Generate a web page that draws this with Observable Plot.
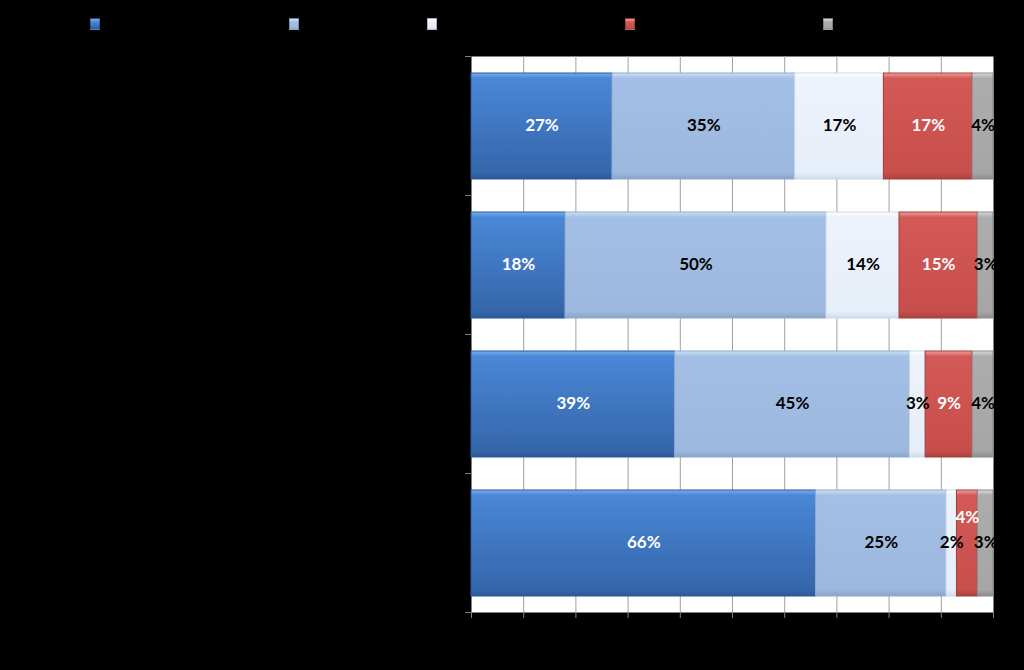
<!DOCTYPE html>
<html><head><meta charset="utf-8">
<script src="https://cdn.jsdelivr.net/npm/d3@7"></script>
<script src="https://cdn.jsdelivr.net/npm/@observablehq/plot@0.6"></script>
<style>
html,body{margin:0;padding:0;background:#000;width:1024px;height:670px;overflow:hidden}
#wrap{position:relative;width:1024px;height:670px}
#legend{position:absolute;top:0;left:0;width:1024px;height:48px;z-index:2}
.item{position:absolute;top:18px;height:12px;display:flex;align-items:center;font:12px Lato,sans-serif;color:#000}
.sw{width:10px;height:12px;margin-right:4px;box-sizing:border-box;border:1px solid rgba(0,0,0,0.25)}
#chart{position:absolute;top:0;left:0}
</style></head><body><div id="wrap"><div id="legend"></div><div id="chart"></div></div>
<script>
// ---- data ----
const categories = ["Category 1", "Category 2", "Category 3", "Category 4"];
const seriesNames = ["Series 1", "Series 2", "Series 3", "Series 4", "Series 5"];
const series1 = [27, 18, 39, 66];
const series2 = [35, 50, 45, 25];
const series3 = [17, 14, 3, 2];
const series4 = [17, 15, 9, 4];
const series5 = [4, 3, 4, 3];
const xTicks = [0, 10, 20, 30, 40, 50, 60, 70, 80, 90, 100];

// ---- styles ----
// [top highlight, body top, body bottom, bottom edge]
const gradients = [
  ["#7aaeee", "#4a87d6", "#3566ab", "#2b5894"],
  ["#cfe0f5", "#a3bfe5", "#9db8df", "#8aa3c8"],
  ["#ffffff", "#edf3fb", "#e6eef9", "#d2dcea"],
  ["#f0a09e", "#d35956", "#c84e4b", "#a94240"],
  ["#dadada", "#acacac", "#a6a6a6", "#8e8e8e"]
];
const edge = ["#2a5a98", "#8ea9d0", "#cdd8e8", "#a33d3a", "#8a8a8a"];
const labelColor = ["#fff", "#000", "#000", "#fff", "#000"];
const legendX = [90, 289, 427, 625, 823];

const allSeries = [series1, series2, series3, series4, series5];
const rows = [];
categories.forEach((c, i) => {
  let acc = 0;
  allSeries.forEach((s, k) => {
    const v = s[i];
    rows.push({cat: c, row: i, s: k, v, x1: acc, x2: acc + v, y1: i, y2: i + 1});
    acc += v;
  });
});
// labels that were lifted to avoid overlap
const lifted = [{row: 3, s: 3}];
const isLifted = d => lifted.some(l => l.row === d.row && l.s === d.s);

// legend
const legend = document.getElementById("legend");
seriesNames.forEach((n, k) => {
  const g = gradients[k];
  const it = document.createElement("div");
  it.className = "item";
  it.style.left = legendX[k] + "px";
  it.innerHTML = `<div class="sw" style="background:linear-gradient(${g[0]},${g[1]} 30%,${g[2]} 85%,${g[3]})"></div><span>${n}</span>`;
  legend.appendChild(it);
});

const defs = () => {
  const d = d3.create("svg:defs");
  gradients.forEach((g, k) => {
    const lg = d.append("linearGradient").attr("id", "g" + k).attr("x1", 0).attr("y1", 0).attr("x2", 0).attr("y2", 1);
    lg.append("stop").attr("offset", "0%").attr("stop-color", g[0]);
    lg.append("stop").attr("offset", "5%").attr("stop-color", g[1]);
    lg.append("stop").attr("offset", "94%").attr("stop-color", g[2]);
    lg.append("stop").attr("offset", "100%").attr("stop-color", g[3]);
  });
  return d.node();
};

const chart = Plot.plot({
  width: 1024,
  height: 670,
  marginLeft: 471,
  marginRight: 31,
  marginTop: 56,
  marginBottom: 58,
  style: {background: "transparent"},
  x: {domain: [0, 100]},
  y: {domain: [0, categories.length], reverse: true},
  marks: [
    defs,
    Plot.frame({fill: "white", stroke: null}),
    Plot.ruleX(xTicks.slice(1, -1), {stroke: "#a0a0a0", strokeWidth: 1}),
    ...seriesNames.map((n, k) =>
      Plot.rect(rows.filter(d => d.s === k), {
        x1: "x1", x2: "x2", y1: "y1", y2: "y2",
        insetTop: 17, insetBottom: 16,
        fill: `url(#g${k})`, stroke: edge[k], strokeWidth: 1
      })
    ),
    Plot.axisY({ticks: [0, 1, 2, 3, 4], tickFormat: () => "", tickSize: 6, stroke: "#808080"}),
    Plot.axisX({ticks: xTicks, tickFormat: () => "", tickSize: 6, stroke: "#808080"}),
    Plot.text(rows.filter(d => !isLifted(d)), {
      x: d => (d.x1 + d.x2) / 2, y: d => d.row + 0.5,
      text: d => d.v + "%", fill: d => labelColor[d.s],
      fontSize: 17, fontWeight: "bold", fontFamily: "Lato, sans-serif"
    }),
    Plot.text(rows.filter(isLifted), {
      x: d => (d.x1 + d.x2) / 2, y: d => d.row + 0.5, dy: -25,
      text: d => d.v + "%", fill: d => labelColor[d.s],
      fontSize: 17, fontWeight: "bold", fontFamily: "Lato, sans-serif"
    })
  ]
});
document.getElementById("chart").appendChild(chart);
</script>
</body></html>
